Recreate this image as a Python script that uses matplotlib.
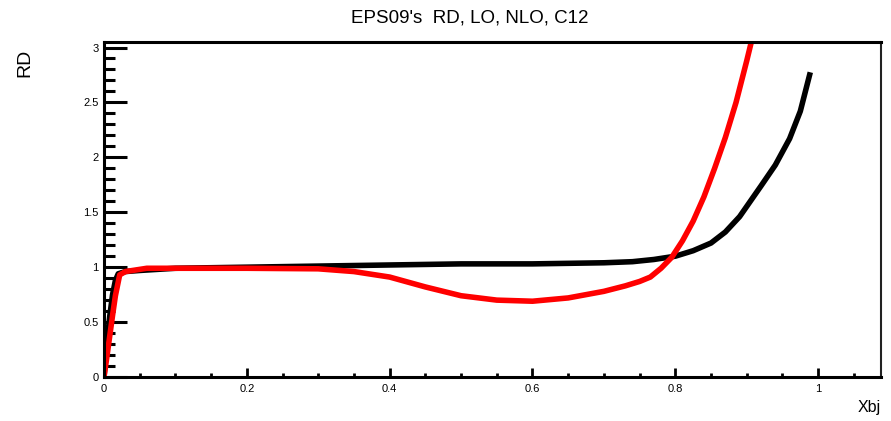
import matplotlib
matplotlib.use("Agg")
from matplotlib import pyplot as plt
from matplotlib.ticker import MultipleLocator

plt.rcParams['font.family'] = ['Liberation Sans', 'DejaVu Sans']

# EPS09 ratio, LO (black) and NLO (red)
x_lo = [0.0, 0.004, 0.008, 0.012, 0.016, 0.02, 0.03, 0.05, 0.1, 0.2, 0.3, 0.4,
        0.5, 0.6, 0.7, 0.74, 0.77, 0.8, 0.825, 0.85, 0.87, 0.89, 0.905, 0.92,
        0.94, 0.96, 0.975, 0.988]
rd_lo = [0.0, 0.3, 0.55, 0.75, 0.88, 0.94, 0.96, 0.97, 0.99, 1.0, 1.01, 1.02,
         1.03, 1.03, 1.04, 1.05, 1.07, 1.1, 1.15, 1.22, 1.32, 1.46, 1.6, 1.74,
         1.93, 2.17, 2.42, 2.75]

x_nlo = [0.0, 0.004, 0.008, 0.012, 0.016, 0.022, 0.03, 0.06, 0.1, 0.2, 0.3,
         0.35, 0.4, 0.45, 0.5, 0.55, 0.6, 0.65, 0.7, 0.73, 0.75, 0.765, 0.78,
         0.795, 0.81, 0.825, 0.84, 0.855, 0.87, 0.885, 0.9, 0.912]
rd_nlo = [0.0, 0.18, 0.37, 0.56, 0.74, 0.93, 0.96, 0.99, 0.99, 0.99, 0.985,
          0.96, 0.91, 0.82, 0.74, 0.70, 0.69, 0.72, 0.78, 0.83, 0.87, 0.91,
          0.99, 1.09, 1.24, 1.42, 1.64, 1.9, 2.18, 2.5, 2.88, 3.2]

fig = plt.figure(figsize=(8.91, 4.21), dpi=100)
ax = fig.add_axes([0.1167, 0.1045, 0.8721, 0.7957])

ax.plot(x_lo, rd_lo, color="black", lw=4, solid_joinstyle="round")
ax.plot(x_nlo, rd_nlo, color="red", lw=4, solid_joinstyle="round")

ax.set_xlim(0, 1.088)
ax.set_ylim(0, 3.05)

ax.xaxis.set_major_locator(MultipleLocator(0.2))
ax.xaxis.set_minor_locator(MultipleLocator(0.05))
ax.yaxis.set_major_locator(MultipleLocator(0.5))
ax.yaxis.set_minor_locator(MultipleLocator(0.1))

ax.tick_params(axis="y", which="major", direction="in", length=16.5, width=2.2,
               labelsize=8, pad=4)
ax.tick_params(axis="y", which="minor", direction="in", length=8, width=2.2)
ax.tick_params(axis="x", which="major", direction="in", length=6.5, width=2,
               labelsize=8, pad=5)
ax.tick_params(axis="x", which="minor", direction="in", length=3.2, width=2)

ax.set_xticks([0, 0.2, 0.4, 0.6, 0.8, 1.0])
ax.set_xticklabels(["0", "0.2", "0.4", "0.6", "0.8", "1"])
ax.set_yticks([0, 0.5, 1, 1.5, 2, 2.5, 3])
ax.set_yticklabels(["0", "0.5", "1", "1.5", "2", "2.5", "3"])

for s in ["left", "bottom", "top"]:
    ax.spines[s].set_linewidth(2.2)
ax.spines["right"].set_linewidth(1.5)
ax.spines["right"].set_color("#222222")

fig.text(0.527, 0.957, "EPS09's  RD, LO, NLO, C12", ha="center", va="center",
         fontsize=13.5)
fig.text(0.028, 0.85, "RD", rotation=90, ha="center", va="center", fontsize=14)
fig.text(0.988, 0.031, "Xbj", ha="right", va="center", fontsize=11.5)

fig.savefig("out.png", dpi=100)
